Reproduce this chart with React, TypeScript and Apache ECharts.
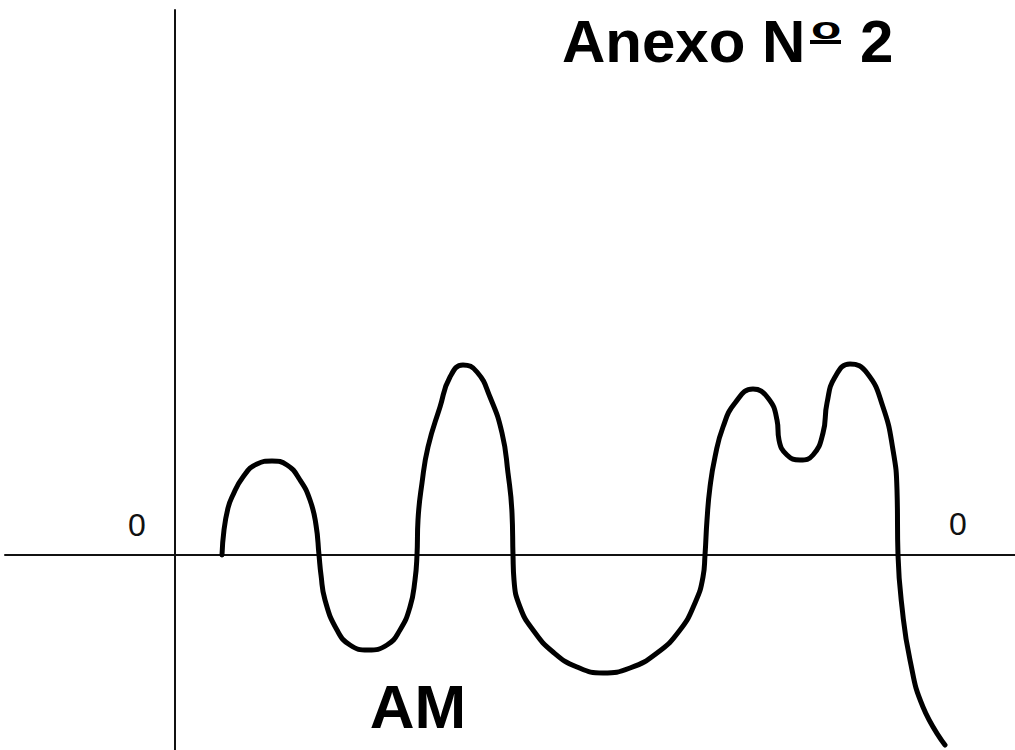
import React, { useEffect, useRef } from "react";
import * as echarts from "echarts";

// Curve (x: horizontal offset from the vertical axis, y: height above the horizontal axis)
const curveX = [
  47, 49, 53, 57, 68, 82, 97, 112, 125, 135, 141, 144,
  146, 150, 162, 175, 193, 212, 225, 235, 240, 242,
  243, 247, 253, 265, 275, 288, 302, 315, 327, 333, 337, 338,
  339, 345, 358, 378, 402, 428, 455, 482, 505, 520, 528, 530,
  532, 535, 540, 548, 560, 578, 593, 602, 604, 612, 625, 638, 648, 652, 660, 675, 692, 708, 718, 722, 723,
  727, 735, 748, 770,
];
const curveY = [
  0, 25, 47, 58, 78, 91, 94, 90, 75, 55, 30, 0,
  -20, -45, -75, -90, -95, -90, -75, -52, -25, 0,
  35, 72, 108, 148, 178, 190, 183, 158, 122, 82, 42, 0,
  -25, -52, -75, -97, -112, -118, -113, -98, -75, -48, -22, 0,
  35, 68, 98, 128, 152, 166, 157, 135, 115, 100, 95, 100, 122, 152, 178, 191, 182, 148, 105, 65, 0,
  -52, -105, -152, -190,
];

const titleMain = "Anexo N";
const titleOrdinal = "o";
const titleNumber = "2";
const bottomText = "AM";
const zeroLabel = "0";

export default function App() {
  const ref = useRef<HTMLDivElement>(null);
  useEffect(() => {
    document.body.style.margin = "0";
    const chart = echarts.init(ref.current!, null, { renderer: "svg" });
    const data = curveX.map((x, i) => [x, curveY[i]]);
    const bold60 = "bold 60px 'Liberation Sans', Arial, sans-serif";
    chart.setOption({
      animation: false,
      backgroundColor: "#ffffff",
      grid: { left: 5, right: 0, top: 10, bottom: 0 },
      xAxis: {
        type: "value",
        min: -170,
        max: 840,
        axisLine: { show: true, onZero: true, lineStyle: { color: "#111", width: 2 } },
        axisTick: { show: false },
        axisLabel: { show: false },
        splitLine: { show: false },
      },
      yAxis: {
        type: "value",
        min: -195,
        max: 545,
        axisLine: { show: true, onZero: true, lineStyle: { color: "#111", width: 2 } },
        axisTick: { show: false },
        axisLabel: { show: false },
        splitLine: { show: false },
      },
      series: [
        {
          type: "line",
          data,
          smooth: 0.5,
          showSymbol: false,
          symbol: "none",
          lineStyle: { color: "#000", width: 5, cap: "round" },
        },
      ],
      graphic: [
        {
          type: "text",
          x: 562,
          y: 41,
          style: {
            text: titleMain,
            font: bold60,
            fill: "#000",
            textAlign: "left",
            textVerticalAlign: "middle",
          },
        },
        {
          type: "text",
          x: 811,
          y: 28,
          scaleX: 1.55,
          style: {
            text: titleOrdinal,
            font: "bold 32px 'Liberation Sans', Arial, sans-serif",
            fill: "#000",
            textAlign: "left",
            textVerticalAlign: "middle",
          },
        },
        {
          type: "rect",
          shape: { x: 810, y: 40, width: 31, height: 4 },
          style: { fill: "#000" },
        },
        {
          type: "text",
          x: 860,
          y: 41,
          style: {
            text: titleNumber,
            font: bold60,
            fill: "#000",
            textAlign: "left",
            textVerticalAlign: "middle",
          },
        },
        {
          type: "text",
          x: 418,
          y: 706,
          style: {
            text: bottomText,
            font: "bold 62px 'Liberation Sans', Arial, sans-serif",
            fill: "#000",
            textAlign: "center",
            textVerticalAlign: "middle",
          },
        },
        {
          type: "text",
          x: 137,
          y: 525,
          style: {
            text: zeroLabel,
            font: "32px 'Liberation Sans', Arial, sans-serif",
            fill: "#111",
            textAlign: "center",
            textVerticalAlign: "middle",
          },
        },
        {
          type: "text",
          x: 958,
          y: 524,
          style: {
            text: zeroLabel,
            font: "32px 'Liberation Sans', Arial, sans-serif",
            fill: "#111",
            textAlign: "center",
            textVerticalAlign: "middle",
          },
        },
      ],
    });
    return () => chart.dispose();
  }, []);
  return <div ref={ref} style={{ width: 1015, height: 750 }} />;
}
